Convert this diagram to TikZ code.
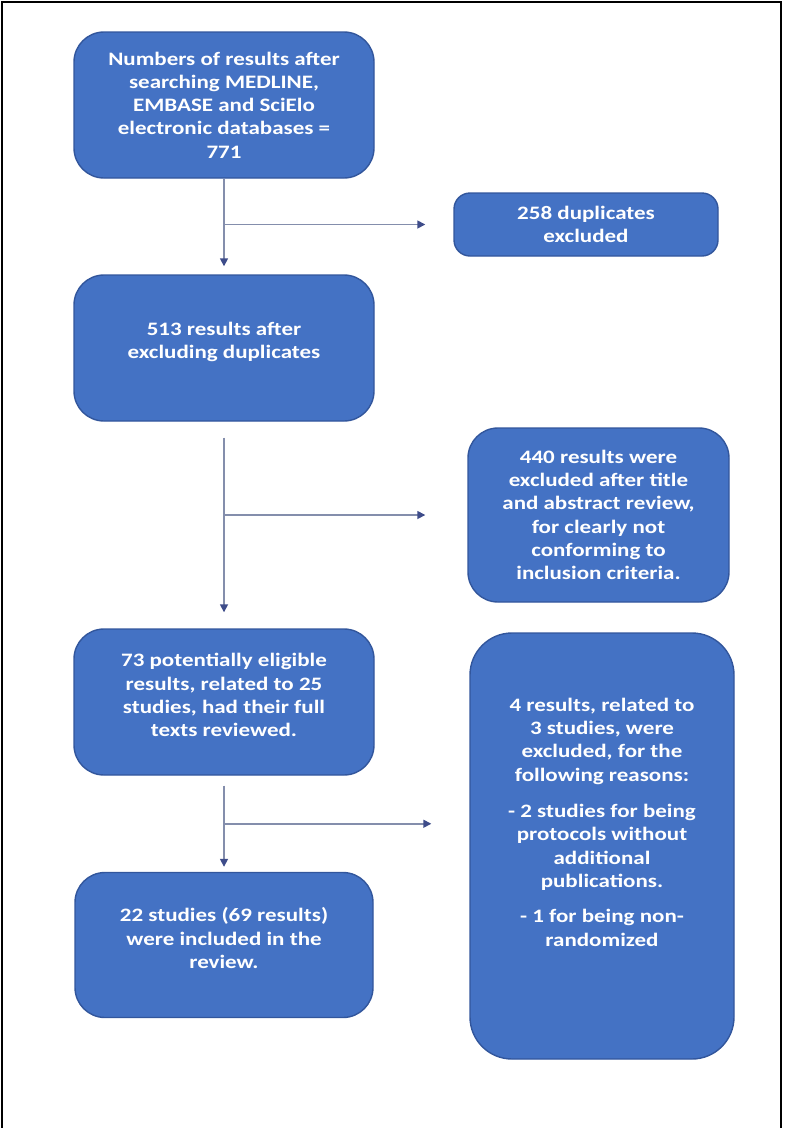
\documentclass[tikz,border=0pt]{standalone}
\usepackage{fontspec}
\setmainfont{Carlito}[FakeStretch=1.21]
\usetikzlibrary{positioning,arrows.meta,calc}

\definecolor{boxfill}{RGB}{68,114,196}
\definecolor{boxline}{RGB}{50,86,156}
\definecolor{arrline}{RGB}{132,142,172}
\definecolor{arrtip}{RGB}{62,76,138}

\begin{document}
\begin{tikzpicture}[x=1pt,y=-1pt,node distance=243pt,
    box/.style={draw=boxline,line width=1.4pt,fill=boxfill,rounded corners=30pt,
      text=white,align=center,inner sep=0pt,
      font=\fontsize{19}{23.3}\selectfont\bfseries},
    arr/.style={draw=arrline,line width=1.6pt,
      -{Triangle[length=8pt,width=8pt,color=arrtip]}}]
      \useasboundingbox (0,0) rectangle (785,1128);
      \draw[line width=2pt] (2,1128) -- (2,2) -- (781,2) -- (781,1128);

      \node[box,minimum width=300pt,minimum height=146pt] (1) at (224,105)
        {Numbers of results after\\ searching MEDLINE,\\ EMBASE and SciElo\\ electronic databases =\\ 771};
      \node[box,minimum width=300pt,minimum height=146pt,text depth=16pt,below of=1] (2)
        {513 results after\\ excluding duplicates};
      \node[box,minimum width=300pt,minimum height=146pt,text depth=14pt,below of=2,yshift=-111pt] (3)
        {73 potentially eligible\\ results, related to 25\\ studies, had their full\\ texts reviewed.};
      \node[box,minimum width=298pt,minimum height=145pt,text depth=14pt,below of=3] (4)
        {22 studies (69 results)\\ were included in the\\ review.};
      \node[box,minimum width=264pt,minimum height=63pt,rounded corners=16pt,right of=1,xshift=119pt,yshift=-119.5pt] (5)
        {258 duplicates\\ excluded};
      \node[box,minimum width=261pt,minimum height=174pt,right of=2,xshift=131.5pt,yshift=-167pt] (6)
        {440 results were\\ excluded after title\\ and abstract review,\\ for clearly not\\ conforming to\\ inclusion criteria.};
      \node[box,minimum width=264pt,minimum height=426pt,rounded corners=42pt,text depth=48pt,right of=3,xshift=135pt,yshift=-144pt] (7)
        {4 results, related to\\ 3 studies, were\\ excluded, for the\\ following reasons:\\[13pt]
         - 2 studies for being\\ protocols without\\ additional\\ publications.\\[12pt]
         - 1 for being non-\\ randomized};

      \coordinate (f1) at (1.south |- 5.west);
      \coordinate (f2) at (2.south |- 6.west);
      \coordinate (f3) at ($(3.south)!0.5!(4.north)$);

      \draw[arr,shorten >=8pt] (1) -- (2);
      \draw[arr,shorten >=28pt] (f1) -- (5.west);
      \draw[arr,shorten <=16pt,shorten >=16pt] (2) -- (3);
      \draw[arr,shorten >=42pt] (f2) -- (6.west |- f2);
      \draw[arr,shorten <=10pt,shorten >=5pt] (3) -- (4);
      \draw[arr,shorten >=38pt] (f3) -- (7.west |- f3);
    \end{tikzpicture}
\end{document}
